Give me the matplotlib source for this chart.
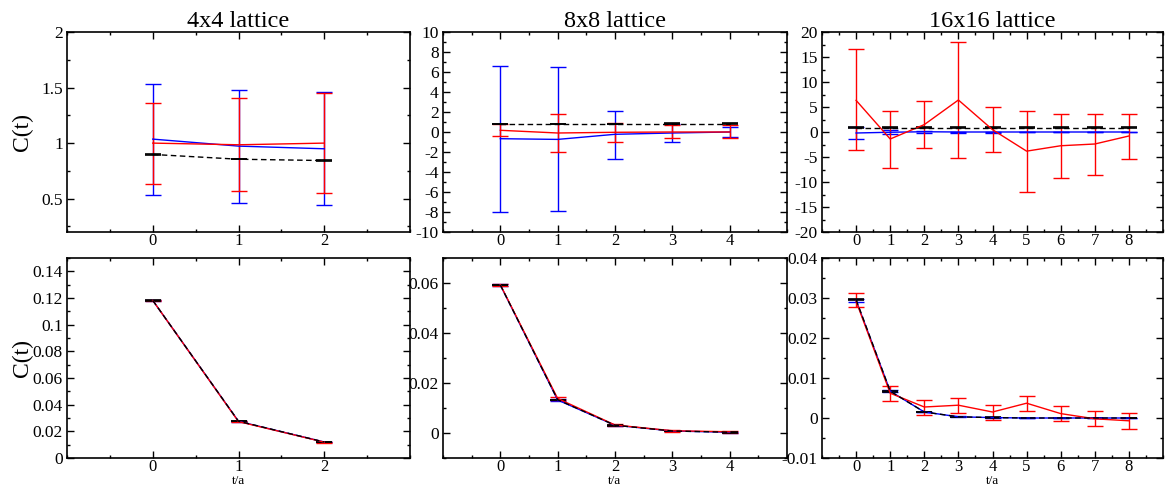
import matplotlib
matplotlib.use('Agg')
import matplotlib.pyplot as plt
from matplotlib.ticker import MultipleLocator, FuncFormatter
import numpy as np

plt.rcParams['font.family'] = ['Liberation Serif', 'DejaVu Serif']

titles = ['4x4 lattice', '8x8 lattice', '16x16 lattice']

# --- top row data ---
t4 = [0, 1, 2]
top4_blue = [1.036, 0.973, 0.949]
top4_blue_lo = [0.536, 0.461, 0.440]
top4_blue_hi = [1.533, 1.482, 1.461]
top4_red = [1.0, 0.985, 1.0]
top4_red_lo = [0.636, 0.566, 0.551]
top4_red_hi = [1.361, 1.41, 1.449]
top4_black = [0.898, 0.855, 0.843]
top4_black_err = [0.002, 0.002, 0.002]

t8 = [0, 1, 2, 3, 4]
top8_blue = [-0.67, -0.74, -0.23, -0.1, 0.0]
top8_blue_lo = [-7.97, -7.9, -2.68, -0.97, -0.47]
top8_blue_hi = [6.6, 6.47, 2.15, 0.77, 0.5]
top8_red = [0.17, -0.1, -0.03, 0.0, 0.0]
top8_red_lo = [-0.4, -2.04, -0.97, -0.64, -0.64]
top8_red_hi = [0.77, 1.8, 0.9, 0.67, 0.67]
top8_black = [0.82, 0.82, 0.82, 0.82, 0.82]
top8_black_err = [0.02, 0.02, 0.02, 0.05, 0.05]

t16 = [0, 1, 2, 3, 4, 5, 6, 7, 8]
top16_blue = [-0.2, -0.05, 0.05, 0.0, 0.0, 0.0, 0.0, 0.0, 0.0]
top16_blue_lo = [-1.47, -0.45, -0.25, -0.1, -0.1, -0.05, -0.05, -0.05, -0.05]
top16_blue_hi = [0.94, 0.4, 0.3, 0.1, 0.1, 0.05, 0.05, 0.05, 0.05]
top16_red = [6.33, -1.4, 1.48, 6.4, 0.47, -3.83, -2.75, -2.4, -0.8]
top16_red_lo = [-3.67, -7.1, -3.2, -5.17, -3.9, -12.0, -9.2, -8.5, -5.4]
top16_red_hi = [16.6, 4.16, 6.24, 18.05, 4.97, 4.23, 3.6, 3.6, 3.7]
top16_black = [0.87] * 9
top16_black_err = [0.05] * 9

# --- bottom row data ---
bot4_blue = [0.1182, 0.0275, 0.0120]
bot4_blue_err = [0.0004, 0.0003, 0.0002]
bot4_red = [0.1182, 0.0273, 0.0119]
bot4_red_err = [0.0004, 0.0004, 0.0003]
bot4_black = [0.1182, 0.0276, 0.0120]
bot4_black_err = [0.0002, 0.0002, 0.0001]

bot8_blue = [0.0592, 0.0132, 0.0031, 0.0008, 0.0003]
bot8_blue_err = [0.0003, 0.0003, 0.0002, 0.0001, 0.0001]
bot8_red = [0.0593, 0.0138, 0.0032, 0.0009, 0.0005]
bot8_red_err = [0.0004, 0.0005, 0.0004, 0.0004, 0.0004]
bot8_black = [0.0592, 0.0133, 0.0031, 0.0008, 0.0003]
bot8_black_err = [0.0001, 0.0001, 0.0001, 0.0001, 0.0001]

bot16_blue = [0.0294, 0.0067, 0.0015, 0.0003, 0.0001, 0.0, 0.0, 0.0, 0.0]
bot16_blue_err = [0.0003, 0.0002, 0.0001, 0.0001, 0.0001, 0.0, 0.0, 0.0, 0.0]
bot16_red = [0.0292, 0.0062, 0.00275, 0.0032, 0.0015, 0.0037, 0.0011, -0.0002, -0.0007]
bot16_red_lo = [0.0277, 0.0042, 0.0008, 0.0013, -0.0004, 0.0018, -0.0008, -0.0021, -0.0027]
bot16_red_hi = [0.0313, 0.0079, 0.0046, 0.0050, 0.0033, 0.0056, 0.0030, 0.0017, 0.0012]
bot16_black = [0.0296, 0.0067, 0.0015, 0.0003, 0.0001, 0.0, 0.0, 0.0, 0.0]
bot16_black_err = [0.0001, 0.0001, 0.00005, 0.00005, 0.00005, 0.0, 0.0, 0.0, 0.0]


def asym(y, lo, hi):
    y = np.array(y)
    return [y - np.array(lo), np.array(hi) - y]


top_sets = [
    (t4, top4_blue, asym(top4_blue, top4_blue_lo, top4_blue_hi),
     top4_red, asym(top4_red, top4_red_lo, top4_red_hi), top4_black, top4_black_err),
    (t8, top8_blue, asym(top8_blue, top8_blue_lo, top8_blue_hi),
     top8_red, asym(top8_red, top8_red_lo, top8_red_hi), top8_black, top8_black_err),
    (t16, top16_blue, asym(top16_blue, top16_blue_lo, top16_blue_hi),
     top16_red, asym(top16_red, top16_red_lo, top16_red_hi), top16_black, top16_black_err),
]
bot_sets = [
    (t4, bot4_blue, bot4_blue_err, bot4_red, bot4_red_err, bot4_black, bot4_black_err),
    (t8, bot8_blue, bot8_blue_err, bot8_red, bot8_red_err, bot8_black, bot8_black_err),
    (t16, bot16_blue, bot16_blue_err, bot16_red, asym(bot16_red, bot16_red_lo, bot16_red_hi),
     bot16_black, bot16_black_err),
]

top_ylims = [(0.2, 2.0), (-10, 10), (-20, 20)]
top_major = [0.5, 2, 5]
top_minor = [0.25, 1, 2.5]
bot_ylims = [(0, 0.15), (-0.01, 0.07), (-0.01, 0.04)]
bot_major = [0.02, 0.02, 0.01]
bot_minor = [0.01, 0.01, 0.005]
xlims = [(-1, 3), (-1, 5), (-1, 9)]

fig = plt.figure(figsize=(11.65, 4.88), dpi=100)
lefts = [67 / 1165, 443 / 1165, 822 / 1165]
widths = [343 / 1165, 344 / 1165, 341 / 1165]
h = 200 / 488
bottoms = [1 - 232 / 488, 1 - 458 / 488]

fmt = FuncFormatter(lambda v, p: f'{round(v, 6):g}')


def style(ax, xl, yl, maj, mnr):
    ax.set_xlim(*xl)
    ax.set_ylim(*yl)
    ax.xaxis.set_minor_locator(MultipleLocator(0.5))
    ax.yaxis.set_major_locator(MultipleLocator(maj))
    ax.yaxis.set_minor_locator(MultipleLocator(mnr))
    ax.yaxis.set_major_formatter(fmt)
    ax.tick_params(which='both', direction='in', top=True, right=True, labelsize=12.5)
    ax.tick_params(which='major', length=5, width=1, pad=3)
    ax.tick_params(axis='x', which='major', pad=1, labelsize=12)
    ax.tick_params(which='minor', length=2.5, width=1)
    for s in ax.spines.values():
        s.set_linewidth(1.2)
    n = xl[1] - 1
    ax.set_xticks(range(0, n + 1))
    ax.set_xticklabels([str(i) for i in range(0, n + 1)])


for row, sets, ylims, majs, mins in [(0, top_sets, top_ylims, top_major, top_minor),
                                     (1, bot_sets, bot_ylims, bot_major, bot_minor)]:
    for col in range(3):
        ax = fig.add_axes([lefts[col], bottoms[row], widths[col], h])
        x, yb, eb, yr, er, yk, ek = sets[col]
        ax.errorbar(x, yb, yerr=eb, color='blue', lw=1, capsize=6, capthick=1)
        ax.errorbar(x, yr, yerr=er, color='red', lw=1, capsize=6, capthick=1)
        ax.errorbar(x, yk, yerr=ek, color='black', lw=1, ls='--', dashes=(4, 2.5),
                    capsize=6, capthick=1.2)
        style(ax, xlims[col], ylims[col], majs[col], mins[col])
        if col == 0:
            ax.set_ylabel('C(t)', fontsize=17)
            ax.yaxis.set_label_coords(-0.10, 0.5)
        if row == 0:
            ax.set_title(titles[col], fontsize=17.5, pad=2)
        else:
            ax.set_xlabel('t/a', fontsize=9.5, va='bottom')
            ax.xaxis.set_label_coords(0.5, -0.143)

fig.savefig('out.png', dpi=100)
